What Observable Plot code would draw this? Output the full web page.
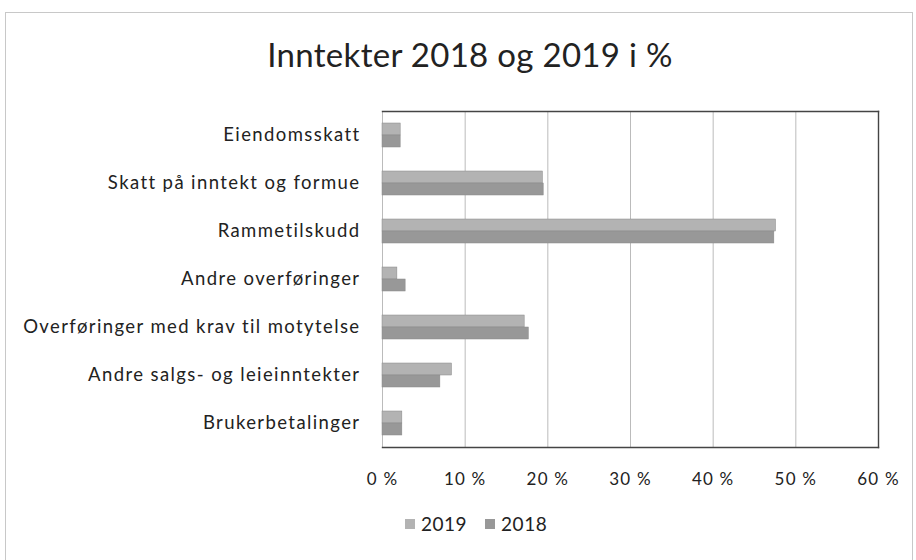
<!DOCTYPE html>
<html>
<head>
<meta charset="utf-8">
<script src="https://cdn.jsdelivr.net/npm/d3@7"></script>
<script src="https://cdn.jsdelivr.net/npm/@observablehq/plot@0.6"></script>
<style>
  html, body { margin: 0; padding: 0; background: #fff; }
  #wrap { position: relative; width: 916px; height: 560px; overflow: hidden; font-family: Lato, "Open Sans", sans-serif; color: #222; }
  #border { position: absolute; left: 5px; top: 12px; width: 908px; height: 600px; border: 1px solid #c8c8c8; box-sizing: border-box; }
  #title { position: absolute; left: 0; top: 34px; width: 940px; text-align: center; font-size: 33px; letter-spacing: 0.3px; color: #222; }
  #chart { position: absolute; left: 0; top: 0; }
  #chart svg text { letter-spacing: 1.2px; }
  #chart svg g.fyaxis text { letter-spacing: 1.4px; }
  #legend { position: absolute; top: 512px; left: 405px; font-size: 19px; display: flex; align-items: center; gap: 18px; letter-spacing: 0.5px; }
  .item { display: flex; align-items: center; gap: 6px; }
  .sw { width: 10px; height: 10px; display: inline-block; }
</style>
</head>
<body>
<div id="wrap">
  <div id="border"></div>
  <div id="title">Inntekter 2018 og 2019 i %</div>
  <div id="chart"></div>
  <div id="legend"></div>
</div>
<script>
const categories = [
  "Eiendomsskatt",
  "Skatt på inntekt og formue",
  "Rammetilskudd",
  "Andre overføringer",
  "Overføringer med krav til motytelse",
  "Andre salgs- og leieinntekter",
  "Brukerbetalinger"
];
const years = ["2019", "2018"];
const values2019 = [2.2, 19.4, 47.6, 1.8, 17.2, 8.4, 2.4];
const values2018 = [2.2, 19.5, 47.4, 2.8, 17.7, 7.0, 2.4];
const xTicks = [0, 10, 20, 30, 40, 50, 60];
const colors = ["#b3b3b3", "#989898"];

const data = [];
categories.forEach((c, i) => {
  data.push({category: c, year: "2019", value: values2019[i]});
  data.push({category: c, year: "2018", value: values2018[i]});
});

const plot = Plot.plot({
  width: 916,
  height: 500,
  marginLeft: 382,
  marginRight: 38,
  marginTop: 109,
  marginBottom: 52,
  style: {fontFamily: "Lato, 'Open Sans', sans-serif", fontSize: "16px", color: "#222", background: "transparent"},
  x: {domain: [0, 60], ticks: xTicks, label: null},
  y: {domain: years, axis: null, paddingInner: 0, paddingOuter: 1},
  fy: {domain: categories, padding: 0, label: null},
  color: {domain: years, range: colors},
  marks: [
    Plot.ruleX(xTicks.slice(1, -1), {x: d => d, stroke: "#bbbbbb", strokeWidth: 1}),
    Plot.frame({facet: "super", anchor: "left", stroke: "#bbbbbb", strokeWidth: 1}),
    Plot.barX(data, {fy: "category", y: "year", x: "value", fill: "year", stroke: "#888", strokeWidth: 0.5}),
    Plot.frame({facet: "super", anchor: "top", stroke: "#444", strokeWidth: 1.4}),
    Plot.frame({facet: "super", anchor: "right", stroke: "#444", strokeWidth: 1.4}),
    Plot.frame({facet: "super", anchor: "bottom", stroke: "#444", strokeWidth: 1.4}),
    Plot.axisX({ticks: xTicks, tickFormat: d => d + " %", tickSize: 0, tickPadding: 25, fontSize: 17, label: null, facetAnchor: "bottom"}),
    Plot.axisFy({anchor: "left", tickSize: 0, tickPadding: 22, fontSize: 18.5, label: null, className: "fyaxis"})
  ]
});
document.getElementById("chart").appendChild(plot);

const legend = document.getElementById("legend");
years.forEach((y, i) => {
  const it = document.createElement("div");
  it.className = "item";
  const sw = document.createElement("span");
  sw.className = "sw";
  sw.style.background = colors[i];
  const t = document.createElement("span");
  t.textContent = y;
  it.appendChild(sw);
  it.appendChild(t);
  legend.appendChild(it);
});
</script>
</body>
</html>
